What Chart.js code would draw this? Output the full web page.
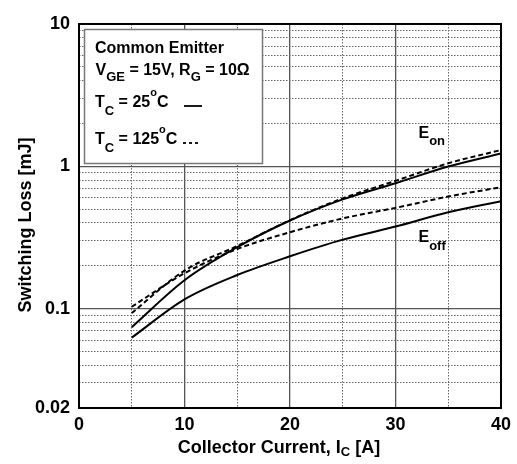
<!DOCTYPE html>
<html>
<head>
<meta charset="utf-8">
<script src="https://cdn.jsdelivr.net/npm/chart.js@4/dist/chart.umd.min.js"></script>
<style>
html,body{margin:0;padding:0;background:#fff;}
canvas{display:block;}
</style>
</head>
<body>
<canvas id="c" width="517" height="464"></canvas>
<script>
// ---- data ----
const currents = [5, 10, 15, 20, 25, 30, 35, 40];
const eon25   = [0.074, 0.158, 0.27, 0.416, 0.585, 0.76, 0.995, 1.23];
const eon125  = [0.093, 0.185, 0.275, 0.418, 0.595, 0.79, 1.05, 1.30];
const eoff25  = [0.0625, 0.116, 0.172, 0.233, 0.305, 0.377, 0.475, 0.568];
const eoff125 = [0.103, 0.177, 0.262, 0.344, 0.43, 0.51, 0.613, 0.712];

const xMajorTicks = [0, 10, 20, 30, 40];
const xTickLabels = ['0', '10', '20', '30', '40'];
const xMinorTicks = [5, 15, 25, 35];
const yMajorTicks = [0.02, 0.1, 1, 10];
const yTickLabels = ['0.02', '0.1', '1', '10'];
const yMinorTicks = [0.03,0.04,0.05,0.06,0.07,0.08,0.09,0.2,0.3,0.4,0.5,0.6,0.7,0.8,0.9,2,3,4,5,6,7,8,9];

const FONT = '"Liberation Sans", Arial, Helvetica, sans-serif';

function pts(arr){ return currents.map((x,i)=>({x:x, y:arr[i]})); }

function drawRich(ctx, x, y, parts){
  let cx = x;
  for (const p of parts){
    ctx.font = 'bold ' + p.s + 'px ' + FONT;
    ctx.fillText(p.t, cx, y + (p.dy||0));
    cx += ctx.measureText(p.t).width;
  }
  return cx - x;
}
function richWidth(ctx, parts){
  let w = 0;
  for (const p of parts){ ctx.font = 'bold ' + p.s + 'px ' + FONT; w += ctx.measureText(p.t).width; }
  return w;
}

const decor = {
  id: 'decor',
  beforeDatasetsDraw(chart){
    const ctx = chart.ctx;
    ctx.save();
    ctx.fillStyle = '#fff';
    ctx.fillRect(84, 29, 179, 135);
    ctx.strokeStyle = '#777';
    ctx.lineWidth = 1.5;
    ctx.strokeRect(84.5, 29.5, 178, 134);
    ctx.fillStyle = '#000';
    ctx.textAlign = 'left';
    ctx.textBaseline = 'alphabetic';
    drawRich(ctx, 95, 53, [{t:'Common Emitter', s:16}]);
    drawRich(ctx, 95.5, 75, [{t:'V', s:16},{t:'GE', s:13, dy:5.5},{t:' = 15V, R', s:16},{t:'G', s:13, dy:5.5},{t:' = 10\u03A9', s:16}]);
    drawRich(ctx, 95, 106.5, [{t:'T', s:16},{t:'C', s:13, dy:8},{t:' = 25', s:16},{t:'o', s:11, dy:-11},{t:'C', s:16}]);
    drawRich(ctx, 95, 144, [{t:'T', s:16},{t:'C', s:13, dy:8},{t:' = 125', s:16},{t:'o', s:11, dy:-11},{t:'C', s:16}]);
    ctx.strokeStyle = '#000';
    ctx.lineWidth = 1.8;
    ctx.beginPath(); ctx.moveTo(184, 106); ctx.lineTo(202, 106); ctx.stroke();
    ctx.setLineDash([3, 3]);
    ctx.beginPath(); ctx.moveTo(183, 143); ctx.lineTo(201, 143); ctx.stroke();
    ctx.restore();
  },
  afterDatasetsDraw(chart){
    const ctx = chart.ctx;
    const a = chart.chartArea;
    ctx.save();
    ctx.strokeStyle = '#000';
    ctx.lineWidth = 2;
    ctx.strokeRect(a.left, a.top, a.right - a.left, a.bottom - a.top);
    ctx.fillStyle = '#000';
    ctx.textAlign = 'left';
    drawRich(ctx, 418.5, 138.3, [{t:'E', s:16},{t:'on', s:13, dy:6.7}]);
    drawRich(ctx, 418.5, 241.7, [{t:'E', s:16},{t:'off', s:13, dy:8.3}]);
    ctx.restore();
  },
  afterDraw(chart){
    const ctx = chart.ctx;
    ctx.save();
    ctx.fillStyle = '#000';
    ctx.textBaseline = 'alphabetic';
    const xt = [{t:'Collector Current, I', s:18},{t:'C', s:13, dy:3},{t:' [A]', s:18}];
    const w = richWidth(ctx, xt);
    ctx.textAlign = 'left';
    drawRich(ctx, 279 - w/2, 453, xt);
    ctx.translate(31, 225);
    ctx.rotate(-Math.PI/2);
    ctx.textAlign = 'center';
    ctx.font = 'bold 18px ' + FONT;
    ctx.fillText('Switching Loss [mJ]', 0, 0);
    ctx.restore();
  }
};

const tickFont = {family: FONT, size: 18, weight: 'bold'};

new Chart(document.getElementById('c'), {
  type: 'line',
  data: {
    datasets: [
      {label:'Eon 25', data: pts(eon25), borderColor:'#000', borderWidth:2, pointRadius:0, cubicInterpolationMode:'monotone', fill:false},
      {label:'Eon 125', data: pts(eon125), borderColor:'#000', borderWidth:2, borderDash:[5,3], pointRadius:0, cubicInterpolationMode:'monotone', fill:false},
      {label:'Eoff 25', data: pts(eoff25), borderColor:'#000', borderWidth:2, pointRadius:0, cubicInterpolationMode:'monotone', fill:false},
      {label:'Eoff 125', data: pts(eoff125), borderColor:'#000', borderWidth:2, borderDash:[5,3], pointRadius:0, cubicInterpolationMode:'monotone', fill:false}
    ]
  },
  options: {
    responsive: false,
    animation: false,
    devicePixelRatio: 1,
    layout: {padding: {left:0, right:15, top:24, bottom:0}},
    plugins: {legend:{display:false}, tooltip:{enabled:false}, title:{display:false}},
    scales: {
      x: {
        type:'linear', min:0, max:40, position:'bottom',
        afterBuildTicks: s => { s.ticks = xMajorTicks.map(v => ({value:v})); },
        afterFit: s => { s.height = 56; },
        ticks: {font: tickFont, color:'#000', padding:6, maxRotation:0, autoSkip:false,
                callback: (v, i) => xTickLabels[i]},
        grid: {color:'#555', lineWidth:1.3, drawTicks:false},
        border: {display:false}
      },
      xMinor: {
        type:'linear', axis:'x', min:0, max:40, position:'bottom',
        afterBuildTicks: s => { s.ticks = xMinorTicks.map(v => ({value:v})); },
        afterFit: s => { s.height = 0; },
        ticks: {display:false},
        grid: {color:'#666', lineWidth:1, drawTicks:false},
        border: {display:false, dash:[1.5,1.5]}
      },
      y: {
        type:'logarithmic', min:0.02, max:10, position:'left',
        afterBuildTicks: s => { s.ticks = yMajorTicks.map(v => ({value:v})); },
        afterFit: s => { s.width = 79; },
        ticks: {font: tickFont, color:'#000', padding:9, autoSkip:false,
                callback: (v, i) => yTickLabels[i]},
        grid: {color:'#555', lineWidth:1.3, drawTicks:false},
        border: {display:false}
      },
      yMinor: {
        type:'logarithmic', axis:'y', min:0.02, max:10, position:'left',
        afterBuildTicks: s => { s.ticks = yMinorTicks.map(v => ({value:v})); },
        afterFit: s => { s.width = 0; },
        ticks: {display:false},
        grid: {color:'#666', lineWidth:1, drawTicks:false},
        border: {display:false, dash:[1.5,1.5]}
      }
    }
  },
  plugins: [decor]
});
</script>
</body>
</html>
